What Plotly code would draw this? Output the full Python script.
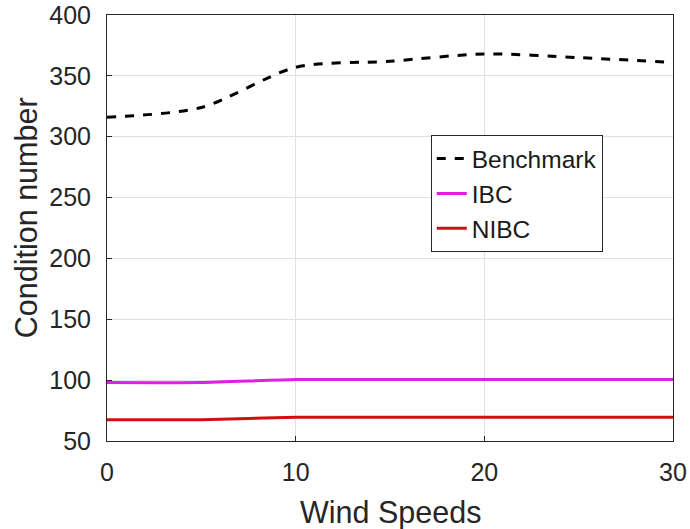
import plotly.graph_objects as go

wind = [0, 5, 10, 15, 20, 25, 30]
benchmark = [316, 324, 357, 362, 368, 365, 361]
ibc = [98, 98, 100.5, 100.5, 100.5, 100.5, 100.5]
nibc = [67.5, 67.5, 69.5, 69.5, 69.5, 69.5, 69.5]

fig = go.Figure()
fig.add_trace(go.Scatter(x=wind, y=benchmark, mode="lines", name="Benchmark",
                         line=dict(color="black", width=3, dash="dash", shape="spline", smoothing=0.8)))
fig.add_trace(go.Scatter(x=wind, y=ibc, mode="lines", name="IBC",
                         line=dict(color="#e020e0", width=3, shape="spline", smoothing=0.6)))
fig.add_trace(go.Scatter(x=wind, y=nibc, mode="lines", name="NIBC",
                         line=dict(color="#d01010", width=3, shape="spline", smoothing=0.6)))

axis_common = dict(showgrid=True, gridcolor="#e0e0e0", gridwidth=1,
                   showline=True, linecolor="#262626", linewidth=1, mirror=True,
                   ticks="inside", ticklen=5, tickcolor="#262626",
                   tickfont=dict(family="Liberation Sans, Arial", size=25, color="#262626"),
                   zeroline=False, automargin=False)

fig.update_layout(
    width=690, height=529,
    margin=dict(l=107, r=17, t=15, b=88),
    paper_bgcolor="white", plot_bgcolor="white",
    font=dict(family="Liberation Sans, Arial", color="#262626"),
    xaxis=dict(range=[0, 30], tickvals=[0, 10, 20, 30], ticklabelstandoff=9, **axis_common),
    yaxis=dict(range=[50, 400], tickvals=[50, 100, 150, 200, 250, 300, 350, 400],
               ticklabelstandoff=10, **axis_common),
    legend=dict(x=0.572, y=0.718, xanchor="left", yanchor="top",
                bordercolor="#262626", borderwidth=1, bgcolor="white",
                font=dict(size=24.5, color="#1a1a1a"), tracegroupgap=0),
    showlegend=True,
    annotations=[
        dict(text="Wind Speeds", xref="paper", yref="paper", x=0.5, y=0,
             xanchor="center", yanchor="middle", yshift=-71, showarrow=False,
             font=dict(size=30.5, color="#262626")),
        dict(text="Condition number", xref="paper", yref="paper", x=0, y=0.523,
             xanchor="center", yanchor="middle", xshift=-81, textangle=-90, showarrow=False,
             font=dict(size=30.5, color="#262626")),
    ],
)

fig.write_html("out.html")
